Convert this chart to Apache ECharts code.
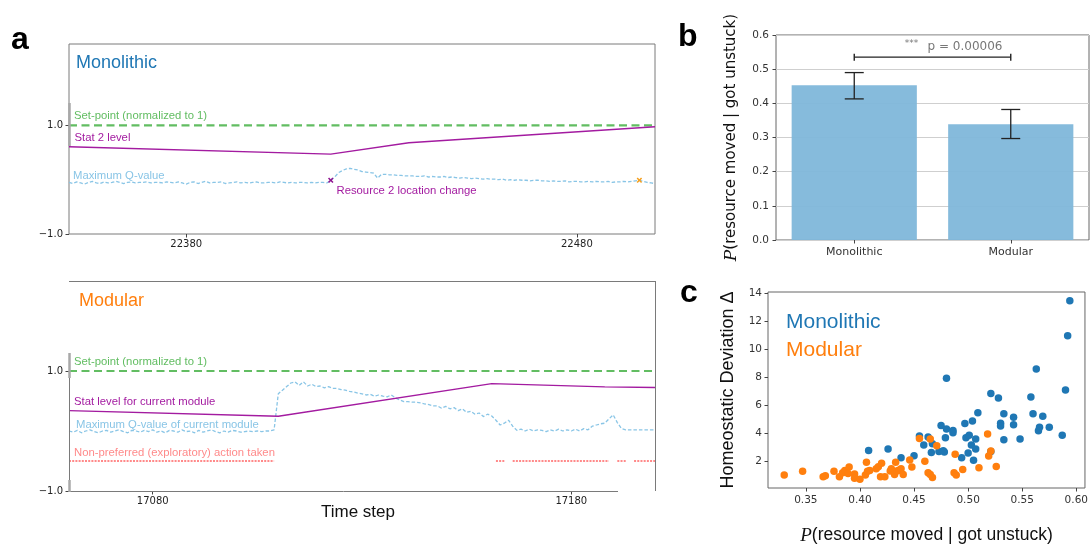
<!DOCTYPE html>
<html>
<head>
<meta charset="utf-8">
<script src="https://cdn.jsdelivr.net/npm/echarts@6/dist/echarts.min.js"></script>
<style>
  html, body { margin: 0; padding: 0; background: #ffffff; }
  #chart { width: 1091px; height: 546px; }
</style>
</head>
<body>
<div id="chart"></div>
<script>
// ---------- Panel a (top): monolithic agent trace ----------
const monoStart = 22350, monoEnd = 22500;
const monoTicks = [22380, 22480];
const monoStatSteps = [22350, 22417, 22437, 22500];
const monoStatLevel = [0.606, 0.472, 0.68, 0.975];
const monoMaxQ = [
  -0.05,-0.07,-0.04,-0.06,-0.08,-0.05,-0.03,-0.06,-0.07,-0.04, // 22350
  -0.06,-0.05,-0.03,-0.05,-0.07,-0.05,-0.04,-0.06,-0.05,-0.05, // 22360
  -0.04,-0.06,-0.05,-0.05,-0.06,-0.04,-0.05,-0.06,-0.04,-0.06, // 22370
  -0.08,-0.05,-0.04,-0.07,-0.05,-0.03,-0.06,-0.05,-0.05,-0.04, // 22380
  -0.07,-0.06,-0.05,-0.04,-0.06,-0.05,-0.06,-0.05,-0.04,-0.06, // 22390
  -0.06,-0.05,-0.05,-0.06,-0.04,-0.05,-0.06,-0.05,-0.06,-0.05, // 22400
  -0.05,-0.06,-0.05,-0.06,-0.05,-0.05,-0.06,-0.01, 0.05, 0.13, // 22410
   0.17, 0.20, 0.21, 0.19, 0.18, 0.15, 0.14, 0.13, 0.12, 0.03, // 22420
   0.10, 0.10, 0.09, 0.09, 0.08, 0.08, 0.07, 0.07, 0.07, 0.06, // 22430
   0.06, 0.07, 0.05, 0.06, 0.05, 0.05, 0.06, 0.04, 0.05, 0.04, // 22440
   0.03, 0.04, 0.03, 0.02, 0.03, 0.02, 0.01, 0.02, 0.01, 0.01, // 22450
   0.00, 0.01,-0.01, 0.00,-0.01, 0.00,-0.01,-0.01,-0.02,-0.01, // 22460
  -0.01,-0.02,-0.02,-0.03,-0.02,-0.03,-0.03,-0.02,-0.04,-0.03, // 22470
  -0.03,-0.04,-0.04,-0.03,-0.04,-0.03,-0.04,-0.04,-0.03,-0.05, // 22480
  -0.04,-0.04,-0.03,-0.04,-0.03,-0.02,-0.01,-0.03,-0.05,-0.06, // 22490
  -0.07                                                        // 22500
];
const resourceChangeSteps = [22417, 22496];
const resourceChangeColors = ['#8e1490', '#f5a020'];

// ---------- Panel a (bottom): modular agent trace ----------
const modStart = 17060, modEnd = 17200;
const modTicks = [17080, 17180];
const modStatSteps = [17060, 17110, 17161, 17188, 17200];
const modStatLevel = [0.339, 0.246, 0.79, 0.736, 0.725];
const modMaxQ = [
   0.00,-0.02, 0.01,-0.03, 0.00, 0.02,-0.01,-0.03, 0.00, 0.01, // 17060
  -0.02, 0.00, 0.02,-0.01,-0.03, 0.01, 0.00,-0.02, 0.01,-0.01, // 17070
   0.02,-0.02, 0.00,-0.03, 0.01, 0.00,-0.02, 0.02,-0.01, 0.00, // 17080
  -0.03, 0.01,-0.02, 0.00, 0.02,-0.01,-0.03, 0.00,-0.02, 0.01, // 17090
   0.00,-0.02,-0.01, 0.00,-0.01, 0.00,-0.01, 0.00, 0.00, 0.02, // 17100
   0.62, 0.68, 0.74, 0.80, 0.82, 0.76, 0.82, 0.75, 0.78, 0.74, // 17110
   0.75, 0.72, 0.74, 0.71, 0.71, 0.69, 0.68, 0.66, 0.65, 0.63, // 17120
   0.62, 0.60, 0.61, 0.58, 0.60, 0.58, 0.57, 0.60, 0.55, 0.52, // 17130
   0.49, 0.49, 0.48, 0.48, 0.47, 0.45, 0.44, 0.42, 0.42, 0.38, // 17140
   0.41, 0.37, 0.39, 0.34, 0.37, 0.31, 0.33, 0.28, 0.30, 0.24, // 17150
   0.28, 0.25, 0.18, 0.10, 0.13, 0.18, 0.08, 0.01, 0.03, 0.00, // 17160
   0.03, 0.00, 0.02, 0.01,-0.01, 0.02, 0.00, 0.03, 0.00, 0.02, // 17170
   0.00, 0.03, 0.00, 0.04, 0.02, 0.08, 0.10, 0.12, 0.13, 0.20, // 17180
   0.27, 0.14, 0.04, 0.02, 0.02, 0.02, 0.02, 0.02, 0.02, 0.02, // 17190
   0.02                                                        // 17200
];
// runs of time steps where a non-preferred (exploratory) action was taken
const exploreRuns = [[17060, 17109], [17162, 17164], [17166, 17189], [17191, 17193], [17195, 17200]];
const exploreLevel = -0.5;
const setPoint = 1.0;

// ---------- Panel b: P(resource moved | got unstuck) ----------
const agentTypes = ['Monolithic', 'Modular'];
const unstuckProb = [0.453, 0.339];
const unstuckLow = [0.413, 0.297];
const unstuckHigh = [0.490, 0.382];
const bracketLevel = 0.535;
const pValueText = 'p = 0.00006';

// ---------- Panel c: homeostatic deviation vs P(resource moved | got unstuck) ----------
const monoScatterX = [0.594,0.592,0.563,0.480,0.590,0.521,0.528,0.558,0.509,0.533,
  0.560,0.569,0.542,0.475,0.480,0.486,0.486,0.497,0.504,0.530,
  0.530,0.542,0.566,0.575,0.565,0.587,0.548,0.533,0.479,0.455,
  0.463,0.498,0.501,0.507,0.459,0.467,0.503,0.507,0.408,0.426,
  0.466,0.473,0.477,0.478,0.500,0.521,0.494,0.505,0.450,0.438];
const monoScatterY = [13.45,10.96,8.58,7.92,7.08,6.83,6.51,6.58,5.47,5.40,
  5.40,5.22,5.15,4.56,4.31,4.20,4.04,4.70,4.88,4.72,
  4.52,4.61,4.43,4.43,4.18,3.86,3.59,3.54,3.68,3.81,
  3.74,3.68,3.86,3.59,3.16,3.25,3.16,2.88,2.77,2.88,
  2.63,2.70,2.75,2.66,2.59,2.70,2.25,2.07,2.39,2.25];
const modScatterX = [0.330,0.347,0.366,0.368,0.376,0.381,0.384,0.386,0.390,0.389,
  0.395,0.395,0.400,0.406,0.405,0.407,0.409,0.415,0.417,0.420,
  0.419,0.423,0.428,0.429,0.433,0.432,0.434,0.436,0.438,0.440,
  0.446,0.448,0.455,0.460,0.465,0.463,0.465,0.467,0.471,0.488,
  0.487,0.489,0.495,0.510,0.518,0.519,0.521,0.526];
const modScatterY = [1.02,1.30,0.91,0.98,1.30,0.91,1.18,1.34,1.59,1.14,
  1.09,0.80,0.73,1.93,1.02,1.30,1.34,1.48,1.61,1.86,
  0.91,0.91,1.32,1.48,1.93,1.07,1.32,1.36,1.48,1.07,
  2.09,1.59,3.63,2.00,3.60,1.18,1.07,0.84,3.11,2.50,
  1.18,1.02,1.41,1.55,3.95,2.38,2.73,1.64];
const scatterXTicks = [0.35, 0.40, 0.45, 0.50, 0.55, 0.60];
const scatterYTicks = [2, 4, 6, 8, 10, 12, 14];

// ---------- styling ----------
const C = {
  green: '#62bd62',
  purple: '#a31ba0',
  sky: '#89c5e6',
  pink: '#ff8a8a',
  blue: '#1f77b4',
  orange: '#ff7f0e',
  bar: '#80b7da',
  frame: '#7a7a7a',
  spineBand: '#a8a8a8',
  tick: '#222222'
};
const SANS = '"Liberation Sans", Arial, sans-serif';
const DV = '"DejaVu Sans", sans-serif';

function fmtSigned(v) {
  return (v < 0 ? '\u2212' : '') + Math.abs(v).toFixed(1);
}
function pairs(xs, ys) { return xs.map((x, i) => [x, ys[i]]); }
function stepSeries(start, values) { return values.map((v, i) => [start + i, v]); }

const exploreData = [];
for (let s = modStart; s <= modEnd; s++) {
  const on = exploreRuns.some(r => s >= r[0] && s <= r[1]);
  exploreData.push([s, on ? exploreLevel : null]);
}

const xMarkPath = 'path://M0,2L2,0L5,3L8,0L10,2L7,5L10,8L8,10L5,7L2,10L0,8L3,5Z';

function traceXAxis(grid, min, max, ticks) {
  return {
    type: 'value', gridIndex: grid, min: min, max: max,
    axisLine: { show: false, onZero: false },
    axisTick: { show: true, customValues: ticks, length: 3.5, lineStyle: { color: '#444' } },
    axisLabel: { customValues: ticks, fontSize: 10, fontFamily: DV, color: C.tick, margin: 5,
      formatter: v => String(v) },
    splitLine: { show: false }
  };
}
function traceYAxis(grid) {
  return {
    type: 'value', gridIndex: grid, min: -1, max: 2.5,
    axisLine: { show: false, onZero: false },
    axisTick: { show: true, customValues: [-1, 1], length: 3.5, lineStyle: { color: '#444' } },
    axisLabel: { customValues: [-1, 1], fontSize: 10, fontFamily: DV, color: C.tick, margin: 6, formatter: fmtSigned },
    splitLine: { show: false }
  };
}

function txt(x, y, text, color, size, extra) {
  const o = Object.assign({ family: SANS, weight: 'normal', align: 'left' }, extra || {});
  return {
    type: 'text', x: x, y: y, z: 50,
    style: {
      text: text, fill: color,
      font: o.weight + ' ' + size + 'px ' + o.family,
      align: o.align, verticalAlign: 'middle',
      textAlign: o.align, textVerticalAlign: 'middle'
    }
  };
}
function seg(x1, y1, x2, y2, color, width) {
  return { type: 'line', z: 40, silent: true,
    shape: { x1: x1, y1: y1, x2: x2, y2: y2 },
    style: { stroke: color, lineWidth: width } };
}

const option = {
  animation: false,
  backgroundColor: '#ffffff',
  textStyle: { fontFamily: SANS },
  grid: [
    { left: 69, top: 44, width: 586, height: 190, show: true, borderColor: C.frame, borderWidth: 1 },
    { left: 69, top: 281, width: 586, height: 210, show: false },
    { left: 776, top: 35, width: 313, height: 205, show: true, borderColor: '#666', borderWidth: 1 },
    { left: 768, top: 292, width: 319, height: 205, show: true, borderColor: '#666', borderWidth: 1 }
  ],
  xAxis: [
    traceXAxis(0, monoStart, monoEnd, monoTicks),
    traceXAxis(1, modStart, modEnd, modTicks),
    {
      type: 'category', gridIndex: 2, data: agentTypes,
      axisLine: { show: false, onZero: false },
      axisTick: { show: true, alignWithLabel: true, length: 3.5, lineStyle: { color: '#444' } },
      axisLabel: { fontSize: 11, fontFamily: DV, color: '#333', margin: 7 }
    },
    { type: 'value', gridIndex: 2, min: -0.5, max: 1.5, show: false,
      axisLine: { onZero: false } },
    {
      type: 'value', gridIndex: 3, min: 0.315, max: 0.608,
      axisLine: { show: false, onZero: false },
      axisTick: { show: true, customValues: scatterXTicks, length: 3.5, lineStyle: { color: '#444' } },
      axisLabel: { customValues: scatterXTicks, fontSize: 10.5, fontFamily: DV, color: '#333', margin: 7,
        formatter: v => v.toFixed(2) },
      splitLine: { show: false },
      name: '{i|P}(resource moved | got unstuck)',
      nameLocation: 'middle', nameGap: 38,
      nameTextStyle: { fontSize: 17.5, fontFamily: SANS, color: '#111',
        rich: { i: { fontSize: 19, fontStyle: 'italic', fontFamily: '"Liberation Serif", serif', color: '#111' } } }
    }
  ],
  yAxis: [
    traceYAxis(0),
    traceYAxis(1),
    {
      type: 'value', gridIndex: 2, min: 0, max: 0.6, interval: 0.1,
      axisLine: { show: false, onZero: false },
      axisTick: { show: true, length: 3.5, lineStyle: { color: '#444' } },
      axisLabel: { fontSize: 10.5, fontFamily: DV, color: '#333', margin: 7, formatter: v => v.toFixed(1) },
      splitLine: { show: true, lineStyle: { color: '#cfcfcf', width: 1 } },
      name: '{i|P}(resource moved | got unstuck)',
      nameLocation: 'middle', nameRotate: 90, nameGap: 36,
      nameTextStyle: { fontSize: 15, fontFamily: DV, color: '#111',
        rich: { i: { fontSize: 17, fontStyle: 'italic', fontFamily: '"DejaVu Serif", serif', color: '#111' } } }
    },
    {
      type: 'value', gridIndex: 3, min: 0.1, max: 14.07,
      axisLine: { show: false, onZero: false },
      axisTick: { show: true, customValues: scatterYTicks, length: 3.5, lineStyle: { color: '#444' } },
      axisLabel: { customValues: scatterYTicks, fontSize: 10.5, fontFamily: DV, color: '#333', margin: 6 },
      splitLine: { show: false },
      name: 'Homeostatic Deviation \u0394',
      nameLocation: 'middle', nameRotate: 90, nameGap: 31,
      nameTextStyle: { fontSize: 18, fontFamily: SANS, color: '#111' }
    }
  ],
  series: [
    // ----- panel a, monolithic -----
    { type: 'line', xAxisIndex: 0, yAxisIndex: 0, symbol: 'none', z: 3,
      data: [[monoStart, setPoint], [monoEnd, setPoint]],
      lineStyle: { color: C.green, width: 2.2, type: [8, 4.5] } },
    { type: 'line', xAxisIndex: 0, yAxisIndex: 0, symbol: 'none', z: 3,
      data: pairs(monoStatSteps, monoStatLevel),
      lineStyle: { color: C.purple, width: 1.4 } },
    { type: 'line', xAxisIndex: 0, yAxisIndex: 0, symbol: 'none', z: 2,
      data: stepSeries(monoStart, monoMaxQ),
      lineStyle: { color: C.sky, width: 1.3, type: [3.5, 2] } },
    { type: 'scatter', xAxisIndex: 0, yAxisIndex: 0, symbol: xMarkPath, symbolSize: 5.5, z: 4,
      data: resourceChangeSteps.map((s, i) => ({
        value: [s, monoMaxQ[s - monoStart]],
        itemStyle: { color: resourceChangeColors[i], opacity: 1 }
      })) },
    // ----- panel a, modular -----
    { type: 'line', xAxisIndex: 1, yAxisIndex: 1, symbol: 'none', z: 3,
      data: [[modStart, setPoint], [modEnd, setPoint]],
      lineStyle: { color: C.green, width: 2.2, type: [8, 4.5] } },
    { type: 'line', xAxisIndex: 1, yAxisIndex: 1, symbol: 'none', z: 3,
      data: pairs(modStatSteps, modStatLevel),
      lineStyle: { color: C.purple, width: 1.4 } },
    { type: 'line', xAxisIndex: 1, yAxisIndex: 1, symbol: 'none', z: 2,
      data: stepSeries(modStart, modMaxQ),
      lineStyle: { color: C.sky, width: 1.3, type: [3.5, 2] } },
    { type: 'line', xAxisIndex: 1, yAxisIndex: 1, symbol: 'none', z: 3, connectNulls: false,
      data: exploreData,
      lineStyle: { color: C.pink, width: 2, type: [2, 1.2] } },
    // ----- panel b -----
    { type: 'bar', xAxisIndex: 2, yAxisIndex: 2, data: unstuckProb, barCategoryGap: '20%',
      itemStyle: { color: C.bar, opacity: 0.95 }, z: 2 },
    { type: 'custom', xAxisIndex: 2, yAxisIndex: 2, z: 5,
      data: agentTypes.map((a, i) => [i, unstuckLow[i], unstuckHigh[i]]),
      encode: { x: 0, y: [1, 2] },
      renderItem: function (params, api) {
        const i = api.value(0);
        const lo = api.coord([i, api.value(1)]);
        const hi = api.coord([i, api.value(2)]);
        const half = 9.5;
        const st = { stroke: '#222', lineWidth: 1.3 };
        return { type: 'group', children: [
          { type: 'line', shape: { x1: lo[0], y1: lo[1], x2: hi[0], y2: hi[1] }, style: st },
          { type: 'line', shape: { x1: lo[0] - half, y1: lo[1], x2: lo[0] + half, y2: lo[1] }, style: st },
          { type: 'line', shape: { x1: hi[0] - half, y1: hi[1], x2: hi[0] + half, y2: hi[1] }, style: st }
        ] };
      } },
    { type: 'line', xAxisIndex: 3, yAxisIndex: 2, z: 5,
      data: [[0, bracketLevel], [1, bracketLevel]],
      symbol: 'rect', symbolSize: [1.4, 7], showSymbol: true,
      itemStyle: { color: '#222' }, lineStyle: { color: '#222', width: 1.3 } },
    // ----- panel c -----
    { type: 'scatter', xAxisIndex: 4, yAxisIndex: 3, symbolSize: 7.5, z: 3,
      data: pairs(monoScatterX, monoScatterY), itemStyle: { color: C.blue, opacity: 1 } },
    { type: 'scatter', xAxisIndex: 4, yAxisIndex: 3, symbolSize: 7.5, z: 4,
      data: pairs(modScatterX, modScatterY), itemStyle: { color: C.orange, opacity: 1 } }
  ],
  graphic: [
    // spine pieces of the trace panels
    seg(69.5, 103, 69.5, 146, C.spineBand, 2.5),
    seg(69, 281.5, 655, 281.5, C.frame, 1),
    seg(655.5, 281, 655.5, 491, C.frame, 1),
    seg(69, 491.5, 618, 491.5, C.frame, 1),
    seg(69.5, 353, 69.5, 492, C.frame, 1),
    seg(69.5, 353, 69.5, 378, C.spineBand, 2.5),
    seg(69.5, 480, 69.5, 492, C.spineBand, 2.5),
    // panel letters
    txt(11, 40, 'a', '#000', 32, { weight: 'bold' }),
    txt(678, 37, 'b', '#000', 32, { weight: 'bold' }),
    txt(680, 293.5, 'c', '#000', 32, { weight: 'bold' }),
    // panel a, monolithic annotations
    txt(76, 63.5, 'Monolithic', C.blue, 18),
    txt(74, 116, 'Set-point (normalized to 1)', C.green, 11.3),
    txt(74.5, 138.3, 'Stat 2 level', C.purple, 11.3),
    txt(73, 176, 'Maximum Q-value', C.sky, 11.3),
    txt(336.5, 191.3, 'Resource 2 location change', C.purple, 11.3),
    // panel a, modular annotations
    txt(79, 300.7, 'Modular', C.orange, 18),
    txt(74, 362.3, 'Set-point (normalized to 1)', C.green, 11.3),
    txt(74, 402, 'Stat level for current module', C.purple, 11.3),
    txt(76, 425.3, 'Maximum Q-value of current module', C.sky, 11.3),
    txt(74, 452.8, 'Non-preferred (exploratory) action taken', C.pink, 11.3),
    txt(358, 512.7, 'Time step', '#111', 17, { align: 'center' }),
    // panel b significance
    txt(911.5, 43.5, '***', '#777', 9, { family: DV, align: 'center' }),
    txt(965, 46.7, pValueText, '#777', 12, { family: DV, align: 'center' }),
    // panel c legend
    txt(786, 322.7, 'Monolithic', C.blue, 21),
    txt(786, 350, 'Modular', C.orange, 21)
  ]
};

const chart = echarts.init(document.getElementById('chart'), null, { renderer: 'canvas' });
chart.setOption(option);
</script>
</body>
</html>
